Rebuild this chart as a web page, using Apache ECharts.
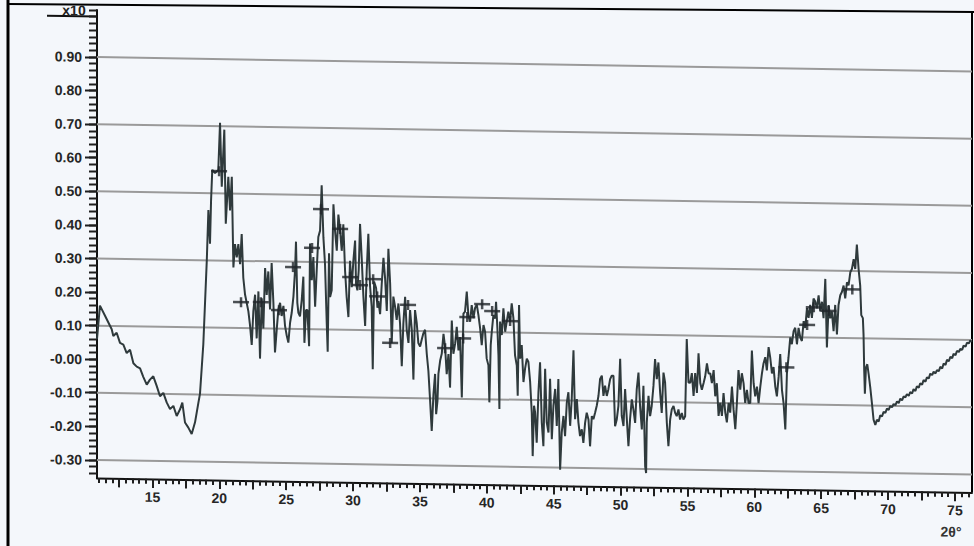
<!DOCTYPE html>
<html><head><meta charset="utf-8">
<script src="https://cdn.jsdelivr.net/npm/echarts@6/dist/echarts.min.js"></script>
<style>
html,body{margin:0;padding:0;background:#f4f7fb;overflow:hidden;width:974px;height:546px;}
#chart{position:absolute;left:0;top:-20px;width:974px;height:566px;transform:skewY(0.945deg);transform-origin:0 0;}
</style></head><body><div id="chart"></div>
<script>
// ---- data: [2θ (deg), intensity (x10^n)] ----
const seg1 = [[10.85,0.06],[11.07,0.16],[11.45,0.13],[11.70,0.11],[11.95,0.09],[12.07,0.07],[12.32,0.08],[12.57,0.05],[12.82,0.045],[13.07,0.02],[13.32,0.03],[13.57,-0.01],[13.82,-0.02],[14.07,-0.025],[14.31,-0.05],[14.57,-0.073],[14.81,-0.058],[15.06,-0.048],[15.32,-0.077],[15.56,-0.107],[15.81,-0.097],[16.06,-0.125],[16.31,-0.145],[16.56,-0.135],[16.81,-0.165],[17.06,-0.145],[17.23,-0.125],[17.43,-0.184],[17.68,-0.199],[17.93,-0.218],[18.18,-0.183],[18.43,-0.125],[18.55,-0.098],[18.80,0.05],[19.06,0.30],[19.18,0.45],[19.30,0.35],[19.38,0.48],[19.47,0.57],[19.68,0.56],[19.92,0.57],[20.05,0.71],[20.18,0.52],[20.37,0.69],[20.48,0.41],[20.67,0.55],[20.80,0.45],[20.93,0.55],[21.05,0.28],[21.17,0.35],[21.30,0.31],[21.42,0.35],[21.55,0.29],[21.67,0.38],[21.79,0.25],[21.92,0.20],[22.17,0.15],[22.29,0.11],[22.42,0.05],[22.54,0.15],[22.67,0.20],[22.79,0.07],[22.92,0.21],[23.04,0.01],[23.17,0.19],[23.29,0.10],[23.42,0.28],[23.54,0.20],[23.66,0.27]];
const seg2 = [[23.79,0.157],[23.91,0.295],[24.04,0.177],[24.16,0.029],[24.29,0.098],[24.41,0.157],[24.54,0.177],[24.66,0.138],[24.79,0.168],[24.91,0.109],[25.04,0.079],[25.16,0.059],[25.29,0.119],[25.41,0.148],[25.54,0.197],[25.66,0.276],[25.73,0.360],[25.83,0.178],[25.91,0.148],[26.03,0.138],[26.16,0.187],[26.28,0.256],[26.36,0.059],[26.48,0.157],[26.58,0.157],[26.71,0.049],[26.78,0.355],[26.91,0.246],[27.03,0.315],[27.16,0.167],[27.28,0.276],[27.40,0.375],[27.53,0.394],[27.65,0.529],[27.78,0.374],[27.90,0.295],[28.03,0.118],[28.10,0.034],[28.20,0.327],[28.28,0.197],[28.40,0.217],[28.53,0.473],[28.65,0.394],[28.78,0.335],[28.90,0.443],[29.03,0.394],[29.15,0.335],[29.27,0.414],[29.40,0.276],[29.52,0.197],[29.65,0.138],[29.77,0.306],[29.90,0.227],[30.02,0.306],[30.15,0.366],[30.22,0.238],[30.32,0.218],[30.42,0.278],[30.52,0.416],[30.65,0.309],[30.77,0.200],[30.90,0.112],[31.02,0.279],[31.14,0.387],[31.27,0.230],[31.39,0.171],[31.47,-0.016],[31.57,0.245],[31.72,0.226],[31.82,0.167],[31.89,0.187],[32.02,0.148],[32.14,0.237],[32.27,0.316],[32.39,0.257],[32.52,0.158],[32.64,0.343],[32.77,0.240],[32.89,0.063],[33.01,0.201],[33.14,0.171],[33.26,0.132],[33.39,0.181],[33.51,0.122],[33.64,-0.006],[33.76,0.122],[33.89,0.201],[34.01,0.103],[34.14,0.064],[34.26,0.162],[34.39,0.103],[34.51,-0.045],[34.63,0.162],[34.76,0.123],[34.88,0.064],[35.01,0.054],[35.13,0.074],[35.26,0.094],[35.38,0.104]];
const seg3 = [[35.51,0.032],[35.63,-0.018],[35.76,-0.108],[35.88,-0.197],[36.01,-0.087],[36.13,-0.027],[36.21,-0.147],[36.31,-0.107],[36.38,-0.027],[36.51,0.013],[36.63,0.033],[36.76,0.093],[36.88,0.053],[37.00,-0.027],[37.13,0.033],[37.25,-0.067],[37.38,0.133],[37.50,0.034],[37.63,0.064],[37.75,0.114],[37.88,0.044],[38.00,0.084],[38.13,-0.096],[38.25,0.154]];
const seg4 = [[38.37,0.160],[38.50,0.220],[38.62,0.150],[38.75,0.130],[38.87,0.180],[39.00,0.141],[39.12,0.171],[39.25,0.181],[39.37,0.151],[39.50,0.111],[39.62,0.061],[39.75,0.121],[39.87,0.101],[39.99,0.021],[40.12,0.001],[40.19,-0.109],[40.29,0.061],[40.37,0.101],[40.49,0.151],[40.62,0.141],[40.69,0.191],[40.79,0.112],[40.87,0.032],[40.94,-0.128],[40.99,0.132],[41.12,0.092],[41.24,0.172],[41.37,0.102],[41.49,0.132],[41.61,0.162],[41.74,0.132],[41.86,0.187],[41.99,0.142],[42.11,0.032],[42.24,0.002],[42.31,-0.088],[42.41,0.182],[42.49,0.023],[42.61,0.063],[42.74,-0.047],[42.86,-0.007],[42.99,0.023],[43.11,0.013],[43.24,-0.047],[43.36,-0.137],[43.43,-0.267],[43.53,-0.117],[43.61,-0.137],[43.73,-0.227],[43.86,-0.077],[43.98,0.013],[44.11,-0.167],[44.23,-0.237],[44.36,-0.006],[44.48,-0.166],[44.61,-0.196],[44.73,-0.036],[44.86,-0.216],[44.98,-0.116],[45.11,-0.066],[45.23,-0.176],[45.35,-0.036],[45.48,-0.306],[45.60,-0.196],[45.73,-0.146],[45.85,-0.206],[45.98,-0.106],[46.10,-0.075],[46.23,-0.175],[46.35,-0.095],[46.48,0.050],[46.60,-0.155],[46.73,-0.095],[46.85,-0.165],[46.97,-0.205],[47.10,-0.185],[47.22,-0.225],[47.35,-0.165],[47.47,-0.135],[47.60,-0.155],[47.72,-0.235],[47.85,-0.145],[47.97,-0.154],[48.10,-0.134],[48.22,-0.114],[48.35,-0.084],[48.47,-0.034],[48.60,-0.024],[48.72,-0.084],[48.84,-0.054],[48.97,-0.084],[49.09,-0.064],[49.22,-0.034],[49.34,-0.024],[49.47,-0.024],[49.59,-0.174],[49.72,-0.153],[49.84,-0.113],[49.97,0.027],[50.09,-0.143],[50.22,-0.173],[50.34,-0.063],[50.47,-0.153],[50.59,-0.233],[50.71,-0.153],[50.84,-0.093],[50.96,-0.123],[51.09,-0.163],[51.21,-0.063],[51.34,-0.013],[51.46,-0.113],[51.59,-0.182],[51.71,-0.052],[51.84,-0.292],[51.91,-0.312],[51.96,-0.162],[52.09,-0.082],[52.21,-0.142],[52.33,-0.112],[52.46,-0.052],[52.58,0.028],[52.71,-0.032],[52.83,0.018],[52.96,-0.072],[53.08,-0.132],[53.21,-0.012],[53.33,-0.041],[53.46,-0.161],[53.58,-0.231],[53.71,-0.151],[53.83,-0.121],[53.96,-0.111],[54.08,-0.131],[54.20,-0.141],[54.33,-0.121],[54.45,-0.151],[54.58,-0.131],[54.70,-0.151],[54.83,-0.141],[54.95,0.089],[55.08,-0.040]];
const seg5 = [[55.21,-0.041],[55.33,-0.012],[55.46,-0.080],[55.58,-0.012],[55.71,-0.071],[55.83,0.047],[55.96,-0.041],[56.08,-0.061],[56.21,-0.041],[56.33,-0.021],[56.46,0.018],[56.58,-0.012],[56.71,-0.012],[56.83,-0.041],[56.96,-0.002],[57.08,-0.080],[57.20,-0.041],[57.33,-0.138],[57.45,-0.099],[57.58,-0.138],[57.70,-0.070],[57.83,-0.128],[57.95,-0.157],[58.08,-0.099],[58.20,-0.128],[58.33,-0.050],[58.45,-0.118],[58.58,-0.177],[58.70,-0.098],[58.82,-0.001],[58.95,-0.059],[59.07,-0.010],[59.20,-0.040],[59.32,-0.098],[59.45,-0.059],[59.57,-0.098],[59.70,-0.098],[59.82,0.058],[59.95,-0.039],[60.07,-0.078],[60.20,-0.049],[60.32,-0.098],[60.45,-0.049],[60.57,-0.010],[60.69,0.020],[60.82,0.039],[60.94,0.000],[61.07,0.069],[61.19,0.039],[61.32,-0.009],[61.44,0.010],[61.57,-0.048],[61.69,-0.077],[61.82,-0.019],[61.94,0.049],[62.07,-0.058],[62.19,-0.097],[62.32,-0.175],[62.44,-0.009],[62.56,0.040],[62.69,0.099],[62.81,0.079],[62.94,0.118],[63.06,0.128],[63.19,0.079],[63.31,0.128],[63.44,0.099],[63.56,0.089],[63.69,0.148],[63.81,0.128],[63.94,0.187],[64.06,0.158],[64.18,0.197],[64.31,0.158],[64.43,0.216],[64.56,0.207],[64.68,0.187],[64.81,0.226],[64.93,0.178],[65.06,0.207],[65.18,0.158],[65.31,0.275],[65.43,0.071],[65.56,0.197],[65.68,0.158],[65.80,0.178],[65.93,0.120],[66.05,0.198],[66.18,0.110],[66.30,0.198],[66.43,0.227],[66.55,0.237],[66.68,0.256],[66.80,0.218],[66.93,0.266],[67.05,0.257],[67.18,0.296],[67.30,0.306],[67.43,0.335],[67.55,0.306],[67.67,0.379],[67.80,0.306],[67.92,0.257],[68.00,0.169],[68.12,0.160],[68.17,0.111],[68.22,0.004],[68.27,-0.065],[68.35,0.013],[68.45,0.023],[68.55,-0.006],[68.67,-0.045],[68.80,-0.094],[68.92,-0.142],[69.05,-0.157],[69.17,-0.142],[69.30,-0.147],[69.42,-0.128],[69.55,-0.132],[69.67,-0.118],[69.80,-0.121],[69.92,-0.108],[70.05,-0.112],[70.17,-0.100],[70.30,-0.104],[70.42,-0.094],[70.55,-0.098],[70.67,-0.086],[70.80,-0.091],[70.92,-0.078],[71.05,-0.083],[71.17,-0.071],[71.30,-0.074],[71.41,-0.064],[71.55,-0.069],[71.66,-0.058],[71.80,-0.062],[71.91,-0.049],[72.05,-0.054],[72.16,-0.040],[72.30,-0.044],[72.41,-0.031],[72.55,-0.035],[72.66,-0.021],[72.80,-0.026],[72.91,-0.013],[73.05,-0.016],[73.16,-0.002],[73.30,-0.006],[73.41,0.004],[73.55,-0.001],[73.66,0.009],[73.80,0.006],[73.91,0.019],[74.05,0.014],[74.16,0.029],[74.30,0.025],[74.41,0.040],[74.55,0.036],[74.66,0.049],[74.80,0.045],[74.90,0.058],[75.05,0.054],[75.15,0.067],[75.30,0.064],[75.40,0.073],[75.55,0.071],[75.65,0.083],[75.80,0.080],[75.90,0.092],[76.05,0.090],[76.15,0.099],[76.28,0.095]];
// peak markers (+)
const peakMarks = [[19.98,0.566],[21.62,0.177],[23.10,0.178],[24.46,0.155],[25.51,0.284],[26.93,0.342],[27.60,0.458],[29.03,0.40],[29.78,0.257],[30.52,0.234],[31.50,0.252],[31.80,0.201],[32.77,0.063],[34.11,0.177],[36.88,0.05],[38.23,0.08],[38.54,0.144],[39.65,0.183],[40.40,0.163],[41.74,0.134],[62.40,0.01],[63.95,0.137],[64.45,0.19],[65.55,0.18],[67.33,0.245]];
// ticks & labels
const xTickLabels = ['15','20','25','30','35','40','45','50','55','60','65','70','75'];
const yTickLabels = ['0.90','0.80','0.70','0.60','0.50','0.40','0.30','0.20','0.10','-0.00','-0.10','-0.20','-0.30'];
const gridLevels = [0.9,0.7,0.5,0.3,0.1,-0.1,-0.3];
const xTitle = '2θ°';
const yMultiplier = 'x10';

const FONT = '"Liberation Sans", Arial, Helvetica, sans-serif';
const xMin = 10.85, xMax = 76.28, yMin = -0.3536, yMax = 1.0401;
const curve = [].concat(seg1, seg2, seg3, seg4, seg5);
const xTickValues = xTickLabels.map(Number);
const yTickValues = yTickLabels.map(parseFloat);
const xMajor = [], xMinor = [], yMinor = [];
for (let i = 5; i <= 30; i++) xMajor.push(i * 2.5);
for (let i = 22; i <= 152; i++) xMinor.push(i * 0.5);
for (let i = -17; i <= 52; i++) yMinor.push(Math.round(i * 2) / 100);
const findLbl = (vals, lbls, v) => { const k = vals.findIndex(u => Math.abs(u - v) < 1e-6); return k < 0 ? '' : lbls[k]; };

const tickColor = '#1e1e1e';
const chart = echarts.init(document.getElementById('chart'), null, {renderer: 'svg', width: 974, height: 566});
const option = {
  animation: false,
  backgroundColor: 'transparent',
  grid: {left: 97, right: 2, top: 28.4, bottom: 69.6, containLabel: false},
  xAxis: [
    {type: 'value', min: xMin, max: xMax, position: 'bottom',
     axisLine: {show: true, onZero: false, lineStyle: {color: '#111', width: 2}},
     axisTick: {show: true, customValues: xMajor, length: 9, lineStyle: {color: tickColor, width: 2}},
     axisLabel: {show: true, customValues: xTickValues, formatter: v => findLbl(xTickValues, xTickLabels, v),
       margin: 11, color: '#262626', fontSize: 14, fontWeight: 'bold', fontFamily: FONT},
     splitLine: {show: false}},
    {type: 'value', min: xMin, max: xMax, position: 'bottom',
     axisLine: {show: false, onZero: false},
     axisTick: {show: true, customValues: xMinor, length: 5, lineStyle: {color: tickColor, width: 2}},
     axisLabel: {show: false}, splitLine: {show: false}}
  ],
  yAxis: [
    {type: 'value', min: yMin, max: yMax, position: 'left',
     axisLine: {show: true, onZero: false, lineStyle: {color: '#111', width: 2}},
     axisTick: {show: true, customValues: yTickValues, length: 12, lineStyle: {color: tickColor, width: 2}},
     axisLabel: {show: true, customValues: yTickValues, formatter: v => findLbl(yTickValues, yTickLabels, v),
       margin: 15, color: '#262626', fontSize: 14, fontWeight: 'bold', fontFamily: FONT},
     splitLine: {show: false}},
    {type: 'value', min: yMin, max: yMax, position: 'left',
     axisLine: {show: false, onZero: false},
     axisTick: {show: true, customValues: yMinor, length: 8, lineStyle: {color: tickColor, width: 2}},
     axisLabel: {show: false}, splitLine: {show: false}}
  ],
  series: gridLevels.map(l => ({
    type: 'line', xAxisIndex: 0, yAxisIndex: 0, data: [[xMin, l], [xMax, l]], symbol: 'none', silent: true, z: 1,
    lineStyle: {color: '#9a9a9a', width: 2}
  })).concat([
    {type: 'line', xAxisIndex: 0, yAxisIndex: 0, data: curve, symbol: 'none', showSymbol: false, z: 3,
     lineStyle: {color: '#2f3a3c', width: 2}},
    {type: 'scatter', xAxisIndex: 0, yAxisIndex: 0, data: peakMarks, symbol: 'rect', symbolSize: [16, 2.5], z: 4,
     itemStyle: {color: '#20262a'}},
    {type: 'scatter', xAxisIndex: 0, yAxisIndex: 0, data: peakMarks, symbol: 'rect', symbolSize: [2.5, 10], z: 4,
     itemStyle: {color: '#20262a'}}
  ]),
  graphic: [
    {type: 'line', shape: {x1: 8, y1: 0, x2: 8, y2: 566}, style: {stroke: '#000', lineWidth: 3}},
    {type: 'line', shape: {x1: 8, y1: 23.9, x2: 974, y2: 15.9}, style: {stroke: '#000', lineWidth: 2}},
    {type: 'line', shape: {x1: 972, y1: 16, x2: 972, y2: 496.4}, style: {stroke: '#000', lineWidth: 2}},
    {type: 'line', shape: {x1: 47, y1: 35, x2: 97, y2: 35}, style: {stroke: '#111', lineWidth: 2}},
    {type: 'text', x: 74, y: 29, style: {text: yMultiplier, fontSize: 14, fontWeight: 'bold', fontFamily: FONT,
      fill: '#222', align: 'center', verticalAlign: 'middle'}},
    {type: 'text', x: 951, y: 536, style: {text: xTitle, fontSize: 14, fontWeight: 'bold', fontFamily: FONT,
      fill: '#333', align: 'center', verticalAlign: 'middle'}}
  ]
};
chart.setOption(option);
</script></body></html>
